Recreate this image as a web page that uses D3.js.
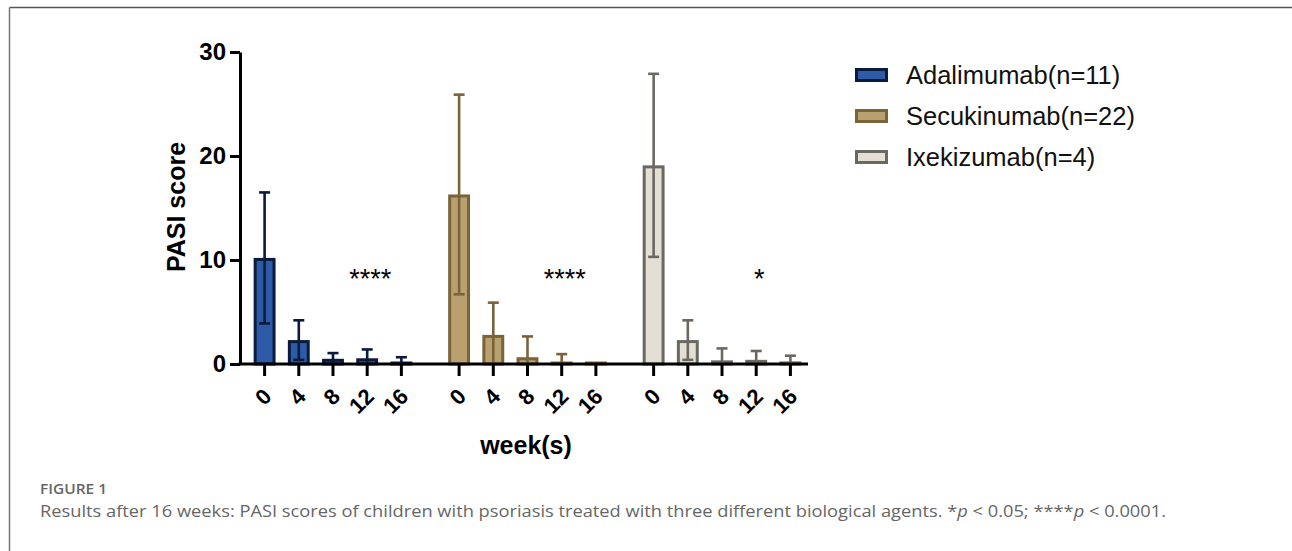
<!DOCTYPE html>
<html>
<head>
<meta charset="utf-8">
<script src="https://cdn.jsdelivr.net/npm/d3@7"></script>
<style>
  html, body { margin: 0; padding: 0; background: #fff; }
  svg { display: block; }
</style>
</head>
<body>
<svg id="chart" width="1292" height="551"></svg>
<script>
// ---- data ----
const groups = ["Adalimumab(n=11)", "Secukinumab(n=22)", "Ixekizumab(n=4)"];
const weeks = ["0", "4", "8", "12", "16"];
const adalimumabMean = [10.2, 2.3, 0.5, 0.55, 0.15];
const adalimumabSD   = [6.3, 1.9, 0.55, 0.85, 0.5];
const secukinumabMean = [16.3, 2.8, 0.65, 0.15, 0.08];
const secukinumabSD   = [9.6, 3.1, 2.0, 0.8, 0];
const ixekizumabMean = [19.1, 2.3, 0.35, 0.4, 0.25];
const ixekizumabSD   = [8.8, 1.9, 1.15, 0.85, 0.55];
const significance = ["****", "****", "*"];
const sigWeek = "12";
const yTicks = [0, 10, 20, 30];
const yTitle = "PASI score";
const xTitle = "week(s)";
const figLabel = "FIGURE 1";
const caption = "Results after 16 weeks: PASI scores of children with psoriasis treated with three different biological agents. ";

const means = [adalimumabMean, secukinumabMean, ixekizumabMean];
const sds = [adalimumabSD, secukinumabSD, ixekizumabSD];
const fills = ["#2d5ba8", "#b8a06f", "#e4dfd4"];
const strokes = ["#0a1b3c", "#7a6338", "#6b6862"];

const svg = d3.select("#chart");
const font = "'Liberation Sans', Arial, sans-serif";

// frame
svg.append("line").attr("x1", 9.5).attr("x2", 1292).attr("y1", 7.5).attr("y2", 7.5)
  .attr("stroke", "#555").attr("stroke-width", 1.5);
svg.append("line").attr("x1", 9.5).attr("x2", 9.5).attr("y1", 7.5).attr("y2", 551)
  .attr("stroke", "#777").attr("stroke-width", 1.5);

// scales
const y = d3.scaleLinear().domain([0, 30]).range([364, 52]);
const xOuter = d3.scaleBand().domain(groups).range([247.5, 807.5]).paddingInner(0.121).paddingOuter(0);
const xInner = d3.scaleBand().domain(weeks).range([0, xOuter.bandwidth()]).paddingInner(0.36).paddingOuter(0.18);

const data = [];
groups.forEach((g, gi) => weeks.forEach((w, wi) => {
  data.push({ g, gi, w, mean: means[gi][wi], sd: sds[gi][wi] });
}));
const cx = d => xOuter(d.g) + xInner(d.w) + xInner.bandwidth() / 2;

// clip so error bars do not go below zero
svg.append("defs").append("clipPath").attr("id", "plotclip")
  .append("rect").attr("x", 240).attr("y", 0).attr("width", 600).attr("height", y(0));

const plot = svg.append("g");
const sw = 3;
plot.selectAll("rect.bar").data(data).join("rect")
  .attr("class", "bar")
  .attr("x", d => xOuter(d.g) + xInner(d.w) + sw / 2)
  .attr("width", xInner.bandwidth() - sw)
  .attr("y", d => Math.min(y(d.mean) + sw / 2, y(0) - 1))
  .attr("height", d => Math.max(1, y(0) - y(d.mean) - sw / 2))
  .attr("fill", d => fills[d.gi])
  .attr("stroke", d => strokes[d.gi])
  .attr("stroke-width", sw);

const eb = plot.append("g").attr("clip-path", "url(#plotclip)");
const capW = 5.5;
data.filter(d => d.sd > 0).forEach(d => {
  const x0 = cx(d), top = y(d.mean + d.sd), bot = y(d.mean - d.sd);
  const c = strokes[d.gi];
  eb.append("line").attr("x1", x0).attr("x2", x0).attr("y1", top).attr("y2", bot)
    .attr("stroke", c).attr("stroke-width", 2.6);
  eb.append("line").attr("x1", x0 - capW).attr("x2", x0 + capW).attr("y1", top).attr("y2", top)
    .attr("stroke", c).attr("stroke-width", 2.6);
  eb.append("line").attr("x1", x0 - capW).attr("x2", x0 + capW).attr("y1", bot).attr("y2", bot)
    .attr("stroke", c).attr("stroke-width", 2.6);
});

// y axis
const yAxis = svg.append("g").attr("transform", "translate(240,0)")
  .call(d3.axisLeft(y).tickValues(yTicks).tickSize(10).tickPadding(4).tickSizeOuter(0));
yAxis.select(".domain").attr("stroke", "#000").attr("stroke-width", 3);
yAxis.selectAll(".tick line").attr("stroke", "#000").attr("stroke-width", 3);
yAxis.selectAll(".tick text").attr("font-family", font).attr("font-size", 24)
  .attr("font-weight", "bold").attr("fill", "#000");

// x axis (line + ticks per bar)
const xAxisG = svg.append("g");
xAxisG.append("line").attr("x1", 238.5).attr("x2", 808).attr("y1", y(0)).attr("y2", y(0))
  .attr("stroke", "#000").attr("stroke-width", 3);
xAxisG.selectAll("line.tk").data(data).join("line").attr("class", "tk")
  .attr("x1", cx).attr("x2", cx).attr("y1", y(0)).attr("y2", y(0) + 12)
  .attr("stroke", "#000").attr("stroke-width", 3);
xAxisG.selectAll("text.tl").data(data).join("text").attr("class", "tl")
  .attr("transform", d => `translate(${cx(d) + 3},392.5) rotate(-45)`)
  .attr("text-anchor", "end").attr("dominant-baseline", "central")
  .attr("font-family", font).attr("font-size", 22).attr("font-weight", "bold")
  .text(d => d.w);

// axis titles
svg.append("text").attr("transform", "translate(185,207) rotate(-90)")
  .attr("text-anchor", "middle").attr("font-family", font).attr("font-size", 25)
  .attr("font-weight", "bold").text(yTitle);
svg.append("text").attr("x", 526).attr("y", 454)
  .attr("text-anchor", "middle").attr("font-family", font).attr("font-size", 25)
  .attr("font-weight", "bold").text(xTitle);

// significance
svg.selectAll("text.sig").data(groups).join("text").attr("class", "sig")
  .attr("x", g => xOuter(g) + xInner(sigWeek) + xInner.bandwidth() / 2 + 3)
  .attr("y", 288)
  .attr("text-anchor", "middle").attr("font-family", font).attr("font-size", 27)
  .text((g, i) => significance[i]);

// legend
const leg = svg.append("g");
groups.forEach((g, i) => {
  const cy = 75 + i * 41;
  leg.append("rect").attr("x", 856.5).attr("y", cy - 5.5).attr("width", 30).attr("height", 11)
    .attr("fill", fills[i]).attr("stroke", strokes[i]).attr("stroke-width", 3);
  leg.append("text").attr("x", 906).attr("y", cy).attr("dominant-baseline", "central")
    .attr("font-family", font).attr("font-size", 25.5).attr("fill", "#111").text(g);
});

// caption
svg.append("text").attr("x", 40).attr("y", 494).attr("font-family", "'Open Sans', sans-serif")
  .attr("font-size", 15).attr("font-weight", 600).attr("fill", "#666")
  .attr("textLength", 67).attr("lengthAdjust", "spacingAndGlyphs").text(figLabel);
const cap = svg.append("text").attr("x", 40).attr("y", 517).attr("font-family", "'Open Sans', sans-serif")
  .attr("font-size", 17).attr("fill", "#666")
  .attr("textLength", 1126).attr("lengthAdjust", "spacingAndGlyphs");
cap.append("tspan").text(caption + "*");
cap.append("tspan").attr("font-style", "italic").text("p");
cap.append("tspan").text(" < 0.05; ****");
cap.append("tspan").attr("font-style", "italic").text("p");
cap.append("tspan").text(" < 0.0001.");
</script>
</body>
</html>
